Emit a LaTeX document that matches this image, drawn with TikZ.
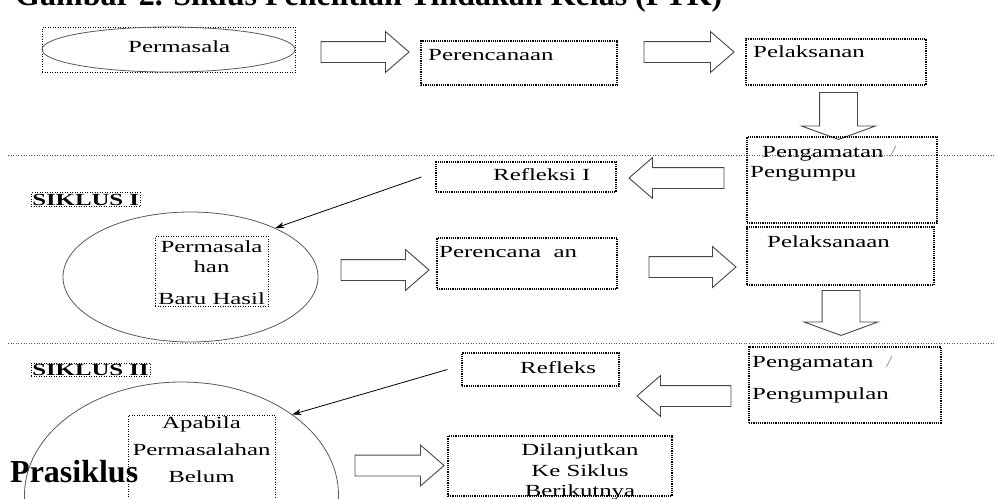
\documentclass[tikz,border=0pt]{standalone}
\usepackage{fontspec}
\setmainfont{Liberation Serif}
\newfontfamily\boxfont[FakeStretch=1.46]{Liberation Serif}
\usetikzlibrary{shapes.geometric,shapes.arrows,arrows.meta}

\newlength{\du}
\setlength{\du}{1pt}

\definecolor{dialinecolor}{rgb}{0.000000, 0.000000, 0.000000}
\definecolor{ringcolor}{rgb}{0.350000, 0.350000, 0.350000}
\definecolor{blockcolor}{rgb}{0.280000, 0.280000, 0.280000}
\definecolor{slashcolor}{rgb}{0.650000, 0.620000, 0.600000}

\tikzset{
  boxtxt/.style={font=\boxfont\fontsize{17}{20}\selectfont, inner sep=0pt, text=dialinecolor},
  labtxt/.style={font=\boxfont\bfseries\fontsize{17}{20}\selectfont, text=dialinecolor},
  titletxt/.style={font=\bfseries\fontsize{32}{36}\selectfont, inner sep=0pt},
  framebox/.style={draw=dialinecolor, line width=1.2pt, densely dotted, inner sep=0pt},
  thinframe/.style={draw=dialinecolor, line width=0.5pt, dotted},
  ringshape/.style={ellipse, draw=ringcolor, line width=0.8pt, inner sep=0pt},
  blockarrow/.style={single arrow, draw=blockcolor, line width=0.9pt, fill=white,
    single arrow head indent=0pt},
  harrow/.style={blockarrow, inner sep=10\du, single arrow head extend=10\du,
    single arrow tip angle=82},
  varrow/.style={blockarrow, shape border rotate=270, inner sep=18.5\du,
    single arrow head extend=18\du, single arrow tip angle=140},
  sepline/.style={draw=ringcolor, line width=0.6pt, dotted},
  pointer/.style={-{Stealth[length=9pt,width=6pt]}, line width=0.8pt, draw=dialinecolor}
}

\begin{document}
\begin{tikzpicture}
\pgftransformyscale{-1.000000}
\useasboundingbox (0\du,0\du) rectangle (995\du,498\du);

% judul
\node[titletxt, anchor=base west] (judul) at (15\du,5\du) {Gambar 2. Siklus Penelitian Tindakan Kelas (PTK)};

% garis pemisah
\draw[sepline] (8\du,155\du) -- (995\du,155\du);
\draw[sepline] (8\du,343\du) -- (995\du,343\du);

% prasiklus
\node[thinframe, inner sep=0pt, minimum width=253\du, minimum height=45\du] (masalahbox) at (168.5\du,49.5\du) {};
\node[ringshape, minimum width=253\du, minimum height=45\du] (masalah) at (168.5\du,49.5\du) {};
\node[boxtxt, anchor=base west] (masalaht) at (128\du,52\du) {Permasala};
\node[harrow, minimum height=88\du] (ar1) at (359\du,52\du) {};
\node[framebox, minimum width=196\du, minimum height=44\du] (rencana) at (519\du,63\du) {};
\node[boxtxt, anchor=base west] (rencanat) at (428\du,60\du) {Perencanaan};
\node[harrow, minimum height=90\du] (ar2) at (683\du,52\du) {};
\node[framebox, minimum width=180\du, minimum height=46\du] (laksana) at (836\du,62\du) {};
\node[boxtxt, anchor=base west] (laksanat) at (753\du,57\du) {Pelaksanan};
\node[varrow, minimum height=47\du] (ad1) at (838.5\du,112.5\du) {};

% siklus I
\node[framebox, minimum width=190\du, minimum height=86\du] (amat) at (842\du,180\du) {};
\node[boxtxt, anchor=base west] (amatt) at (762\du,157\du) {Pengamatan {\color{slashcolor}/}};
\node[boxtxt, anchor=base west] (amatu) at (750\du,177\du) {Pengumpu};
\node[harrow, shape border rotate=180, minimum height=95\du] (al1) at (682.5\du,178\du) {};
\node[framebox, minimum width=180\du, minimum height=30\du] (refleksi) at (526\du,177\du) {};
\node[boxtxt, anchor=base west] (refleksit) at (493\du,180\du) {Refleksi I};
\node[thinframe, labtxt, inner sep=1pt, anchor=base west] (siklus1) at (31\du,205\du) {SIKLUS I};
\node[ringshape, minimum width=255\du, minimum height=130\du] (ring1) at (190.5\du,277\du) {};
\node[thinframe, minimum width=113\du, minimum height=70\du] (isi1) at (211.5\du,271\du) {};
\node[boxtxt, align=center, anchor=north] (isi1t) at (211.5\du,240.5\du) {Permasala\\han\\[12pt]Baru Hasil};
\node[harrow, minimum height=88\du] (ar3) at (379\du,270\du) {};
\node[framebox, minimum width=180\du, minimum height=51\du] (rencana2) at (527\du,263.5\du) {};
\node[boxtxt, anchor=base west] (rencana2t) at (439\du,257\du) {Perencana\ \ an};
\node[harrow, minimum height=87\du] (ar4) at (686.5\du,267\du) {};
\node[framebox, minimum width=187\du, minimum height=58\du] (laksana2) at (840.5\du,256\du) {};
\node[boxtxt, anchor=base west] (laksana2t) at (767\du,247\du) {Pelaksanaan};
\node[varrow, minimum height=45\du] (ad2) at (841\du,309.5\du) {};
\draw[pointer] ([xshift=-14\du]refleksi.west) -- (ring1.30);

% siklus II
\node[framebox, minimum width=192\du, minimum height=76\du] (amat2) at (845\du,385\du) {};
\node[boxtxt, anchor=base west] (amat2t) at (752\du,367\du) {Pengamatan\ \ {\color{slashcolor}/}};
\node[boxtxt, anchor=base west] (amat2u) at (752\du,399\du) {Pengumpulan};
\node[harrow, shape border rotate=180, minimum height=94\du] (al2) at (690\du,396\du) {};
\node[framebox, minimum width=157\du, minimum height=33\du] (refleks) at (540.5\du,369.5\du) {};
\node[boxtxt, anchor=base west] (reflekst) at (520\du,373\du) {Refleks};
\node[thinframe, labtxt, inner sep=1pt, anchor=base west] (siklus2) at (31\du,375\du) {SIKLUS II};
\node[ringshape, minimum width=314\du, minimum height=226\du] (ring2) at (181.5\du,495\du) {};
\node[thinframe, minimum width=147\du, minimum height=110\du] (isi2) at (201.5\du,470\du) {};
\node[boxtxt, align=center, anchor=north, font=\boxfont\fontsize{17}{27}\selectfont] (isi2t) at (201.5\du,416.5\du) {Apabila\\Permasalahan\\Belum};
\node[harrow, minimum height=89\du] (ar5) at (393.5\du,465.5\du) {};
\node[framebox, minimum width=224\du, minimum height=60\du] (lanjut) at (560\du,466\du) {};
\node[boxtxt, align=center, anchor=north, font=\boxfont\fontsize{17}{20.5}\selectfont] (lanjutt) at (580\du,443.5\du) {Dilanjutkan\\Ke Siklus\\Berikutnya};
\draw[pointer] ([xshift=-14\du]refleks.west) -- (ring2.36);

\node[titletxt, anchor=base west] (prasiklus) at (10\du,482\du) {Prasiklus};
\end{tikzpicture}
\end{document}
